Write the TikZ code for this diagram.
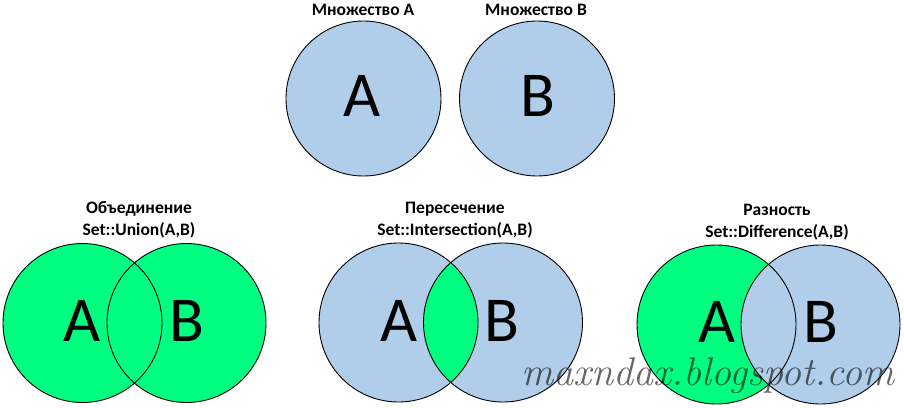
\documentclass[tikz,border=0pt]{standalone}
\usepackage{fontspec}
\setmainfont{Carlito}
\newfontfamily\wmfont{Latin Modern Roman}
\usepackage{pdfrender}
\definecolor{setblue}{HTML}{B0CDEA}
\definecolor{setgreen}{HTML}{00FF80}
\definecolor{wmgray}{HTML}{7A7A7A}
\tikzset{
  biglet/.style={font=\fontsize{64}{70}\selectfont, inner sep=0pt},
  caption/.style={font=\fontsize{17.5}{21.5}\selectfont\bfseries, align=center, inner sep=0pt},
  rim/.style={draw=black, line width=0.9pt},
}
\begin{document}
\begin{tikzpicture}[x=1pt,y=-1pt]
\useasboundingbox (0,0) rectangle (904,407);
\def\R{79.5}
% centres
\coordinate (tA) at (363.5,98.5);
\coordinate (tB) at (537,98.5);
\coordinate (uA) at (82.5,323);
\coordinate (uB) at (186.5,323);
\coordinate (iA) at (398.5,322.5);
\coordinate (iB) at (503,322.5);
\coordinate (dA) at (716.5,324.5);
\coordinate (dB) at (820.5,324.5);
% top sets
\fill[setblue] (tA) circle (77.5);
\draw[rim] (tA) circle (77.5);
\fill[setblue] (tB) circle (77.5);
\draw[rim] (tB) circle (77.5);
\node[caption] (ltA) at (363,10) {Множество A};
\node[caption] (ltB) at (536,10) {Множество B};
\node[biglet] (LtA) at (362.5,96) {A};
\node[biglet] (LtB) at (538,96) {B};
% union
\fill[setgreen] (uA) circle (\R);
\fill[setgreen] (uB) circle (\R);
\draw[rim] (uA) circle (\R);
\draw[rim] (uB) circle (\R);
\node[caption] (lu) at (139,220) {Объединение\\Set::Union(A,B)};
\node[biglet] (LuA) at (82,321) {A};
\node[biglet] (LuB) at (187,321) {B};
% intersection
\fill[setblue] (iA) circle (\R);
\fill[setblue] (iB) circle (\R);
\begin{scope}
\clip (iA) circle (\R);
\fill[setgreen] (iB) circle (\R);
\end{scope}
\draw[rim] (iA) circle (\R);
\draw[rim] (iB) circle (\R);
\node[caption] (li) at (455,220) {Пересечение\\Set::Intersection(A,B)};
\node[biglet] (LiA) at (399,321) {A};
\node[biglet] (LiB) at (502,321) {B};
% difference
\fill[setgreen] (dA) circle (\R);
\fill[setblue] (dB) circle (\R);
\draw[rim] (dA) circle (\R);
\draw[rim] (dB) circle (\R);
\node[caption] (ld) at (777,222) {Разность\\Set::Difference(A,B)};
\node[biglet] (LdA) at (717,322) {A};
\node[biglet] (LdB) at (821,322) {B};
% watermark
\node[inner sep=0pt, text opacity=0.6, font=\wmfont\itshape\fontsize{40}{44}\selectfont] (wm) at (708,376)
  {\textpdfrender{TextRenderingMode=FillStroke, LineWidth=0.7, StrokeColor=wmgray, FillColor=white}{maxndax.blogspot.com}};
\end{tikzpicture}
\end{document}
